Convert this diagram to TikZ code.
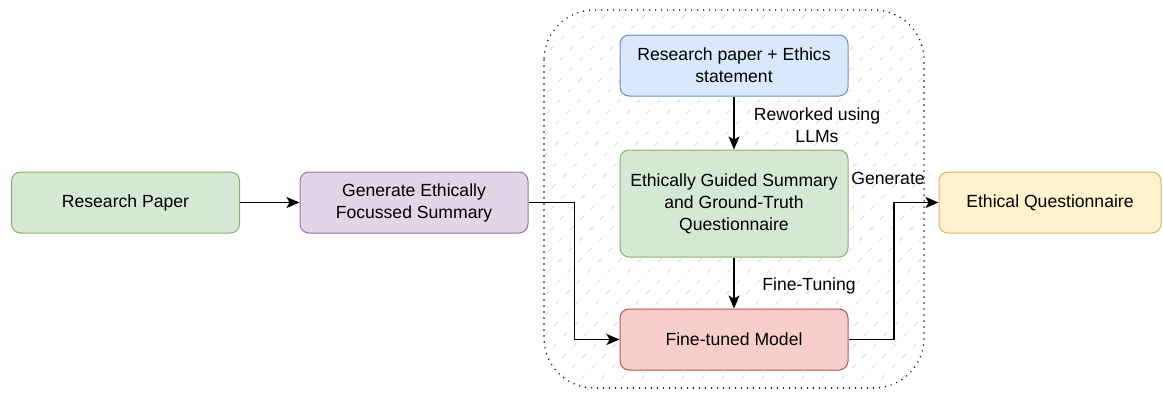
\documentclass[tikz,border=0pt]{standalone}
\usepackage{fontspec}
\setmainfont{Liberation Sans}
\usetikzlibrary{arrows.meta}

\definecolor{greenFill}{HTML}{D5E8D4}\definecolor{greenLine}{HTML}{82B366}
\definecolor{purpleFill}{HTML}{E1D5E7}\definecolor{purpleLine}{HTML}{9673A6}
\definecolor{blueFill}{HTML}{DAE8FC}\definecolor{blueLine}{HTML}{6C8EBF}
\definecolor{redFill}{HTML}{F8CECC}\definecolor{redLine}{HTML}{B85450}
\definecolor{yellowFill}{HTML}{FFF2CC}\definecolor{yellowLine}{HTML}{D6B656}
\definecolor{hatchColor}{HTML}{D6DAF7}

\tikzset{
  stepbox/.style={rectangle, rounded corners=9pt, line width=1pt, minimum width=228pt, minimum height=61pt,
                  align=center, inner sep=2pt, font=\fontsize{17.6}{22}\selectfont},
  flow/.style={line width=1.2pt, -{Stealth[length=13pt,width=11pt,inset=3pt]}},
  edgelabel/.style={align=center, inner sep=0pt, font=\fontsize{17.6}{22}\selectfont},
  hatch/.style={draw=hatchColor, line width=1pt, dash pattern=on 5pt off 10pt}
}

\begin{document}
\begin{tikzpicture}[x=1pt, y=-1pt]
	\useasboundingbox (0,0) rectangle (1163,394);

	% dotted container with hatch
	\begin{scope}
		\clip[rounded corners=50pt] (544,10) rectangle (924,388);
		\foreach \i in {140,160,...,940}
			\draw[hatch] (\i,400) -- (\i+400,0);
	\end{scope}
	\draw[line width=1.6pt, line cap=round, dash pattern=on 0pt off 6pt, rounded corners=50pt] (544,10) rectangle (924,388);

	\node[stepbox, fill=greenFill, draw=greenLine](paper) at (125.5,202.5){Research Paper};
	\node[stepbox, fill=purpleFill, draw=purpleLine](summary) at (414,202.5){Generate Ethically\\Focussed Summary};
	\node[stepbox, fill=blueFill, draw=blueLine](ethics) at (734,65.5){Research paper + Ethics\\statement};
	\node[stepbox, fill=greenFill, draw=greenLine, minimum height=107pt](guided) at (734,203.5){Ethically Guided Summary\\and Ground-Truth\\Questionnaire};
	\node[stepbox, fill=redFill, draw=redLine](model) at (734,339.5){Fine-tuned Model};
	\node[stepbox, fill=yellowFill, draw=yellowLine, minimum width=222pt](quest) at (1050,202.5){Ethical Questionnaire};

	\draw[flow] (paper) -- (summary);
	\draw[flow] (summary.east) -- ++(46,0) |- (model.west);
	\draw[flow] (ethics) -- (guided);
	\draw[flow] (guided) -- (model);
	\draw[flow] (model.east) -- ++(45.5,0) |- (quest.west);

	\node[edgelabel](reworked) at (817,125){Reworked using\\LLMs};
	\node[edgelabel](tuning) at (809,286){Fine-Tuning};
	\node[edgelabel](generate) at (888,178){Generate};
\end{tikzpicture}
\end{document}
